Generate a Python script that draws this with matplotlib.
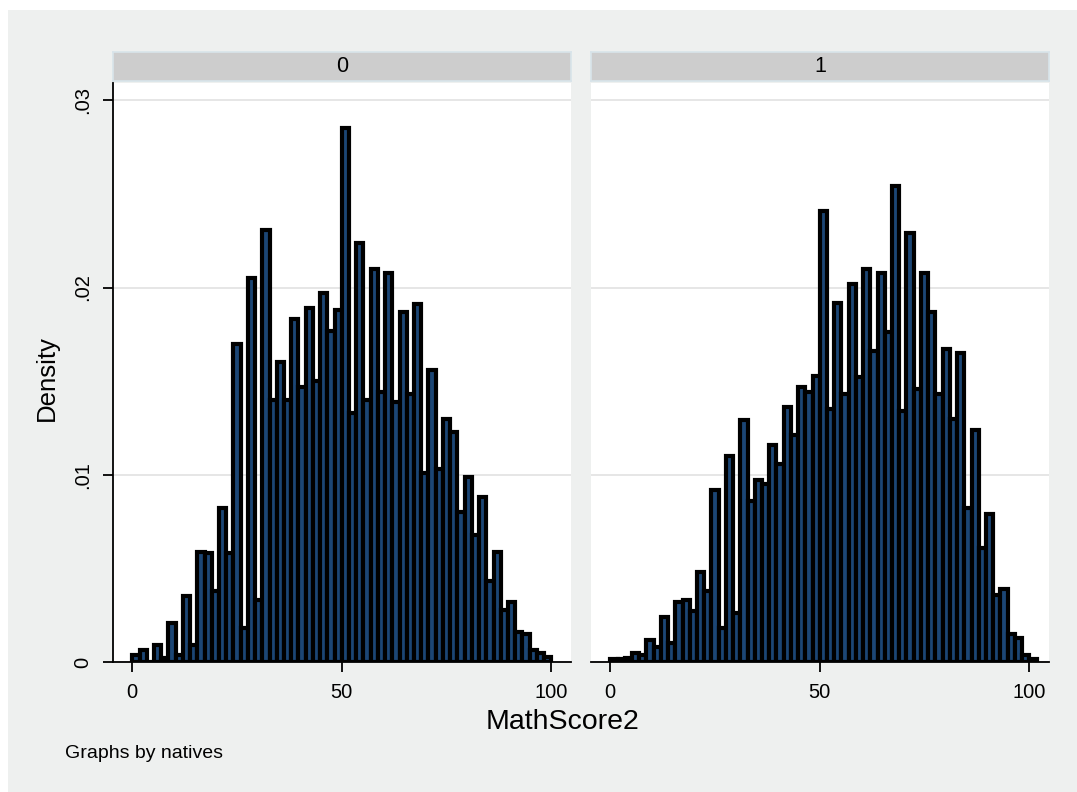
import matplotlib
matplotlib.use("Agg")
import matplotlib.pyplot as plt
from matplotlib.patches import Rectangle

# ---- data (density per bin; bins of width 100/58 starting at 0) ----
bin_start = 0.0
bin_width = 100.0 / 58

natives0 = [0.00035, 0.00065, 0.0, 0.0009, 0.0002, 0.0021, 0.0004, 0.0035, 0.0009, 0.0059,
            0.0058, 0.0038, 0.0082, 0.0058, 0.0170, 0.0018, 0.0205, 0.0033, 0.0231, 0.0140,
            0.0160, 0.0140, 0.0183, 0.0147, 0.0189, 0.0150, 0.0197, 0.0177, 0.0188, 0.0285,
            0.0133, 0.0224, 0.0140, 0.0210, 0.0144, 0.0208, 0.0139, 0.0187, 0.0143, 0.0191,
            0.0101, 0.0156, 0.0103, 0.0130, 0.0123, 0.0080, 0.0099, 0.0068, 0.0088, 0.0043,
            0.0059, 0.0028, 0.0032, 0.0016, 0.0015, 0.00065, 0.0005, 0.00025]

natives1 = [0.00015, 0.00015, 0.0002, 0.0005, 0.00035, 0.0012, 0.0008, 0.0024, 0.0010, 0.0032,
            0.0033, 0.0027, 0.0048, 0.0038, 0.0092, 0.0018, 0.0110, 0.0026, 0.0129, 0.0086,
            0.0097, 0.0095, 0.0116, 0.0106, 0.0136, 0.0121, 0.0147, 0.0144, 0.0153, 0.0241,
            0.0135, 0.0192, 0.0143, 0.0202, 0.0152, 0.0210, 0.0166, 0.0208, 0.0176, 0.0254,
            0.0134, 0.0229, 0.0146, 0.0208, 0.0187, 0.0143, 0.0167, 0.0130, 0.0165, 0.0082,
            0.0124, 0.0061, 0.0079, 0.0036, 0.0039, 0.0015, 0.0013, 0.0004, 0.00015]

panels = ["0", "1"]
panel_data = [natives0, natives1]
xticks = [0, 50, 100]
yticks = [0, 0.01, 0.02, 0.03]
ytick_labels = ["0", ".01", ".02", ".03"]
xtitle = "MathScore2"
ytitle = "Density"
note = "Graphs by natives"

# ---- style ----
W, H = 1077, 792
FONT = ["Liberation Sans", "DejaVu Sans"]
plt.rcParams["font.family"] = FONT
BG = "#EEF0EF"
BAR_FILL = "#1C4675"
STRIP = "#CDCDCD"

fig = plt.figure(figsize=(W / 100, H / 100), dpi=100)
fig.patch.set_facecolor("white")
fig.add_artist(Rectangle((8 / W, 0), 1 - 8 / W, 1 - 10 / H, transform=fig.transFigure,
                         facecolor=BG, edgecolor="none", zorder=-10))

def fx(px):
    return px / W

def fy(py):
    return 1 - py / H

ax_top, ax_bot = 83, 662
panel_lr = [(113, 571), (591, 1049)]
px_per_unit = 4.19
x0_px = [132.3, 610.3]
ymax = (661 - ax_top) / 186.9 * 0.01

for i, (name, vals) in enumerate(zip(panels, panel_data)):
    l, r = panel_lr[i]
    ax = fig.add_axes([fx(l), fy(ax_bot), fx(r - l), (ax_bot - ax_top) / H])
    ax.set_facecolor("white")
    lefts = [bin_start + k * bin_width for k in range(len(vals))]
    ax.bar(lefts, vals, width=bin_width, align="edge", color=BAR_FILL,
           edgecolor="black", linewidth=3.0, zorder=3)
    xmin = (l - x0_px[i]) / px_per_unit
    xmax = (r - x0_px[i]) / px_per_unit
    ax.set_xlim(xmin, xmax)
    ax.set_ylim(0, ymax)
    ax.set_yticks(yticks)
    ax.yaxis.grid(True, color="#E6E6E6", linewidth=1.4, zorder=0)
    ax.set_axisbelow(True)
    for s in ["top", "right"]:
        ax.spines[s].set_visible(False)
    ax.spines["bottom"].set_linewidth(1.3)
    ax.set_xticks(xticks)
    ax.set_xticklabels([str(t) for t in xticks], fontsize=14.5)
    ax.tick_params(axis="x", length=7, width=1.3, pad=8, color="black")
    if i == 0:
        ax.spines["left"].set_linewidth(1.3)
        ax.set_yticklabels(ytick_labels, fontsize=14.5, rotation=90, va="center")
        ax.tick_params(axis="y", length=7, width=1.3, pad=8)
    else:
        ax.spines["left"].set_visible(False)
        ax.tick_params(axis="y", length=0, labelleft=False)
    # strip header
    sax = fig.add_axes([fx(l), fy(81), fx(r - l), 29 / H])
    sax.set_facecolor(STRIP)
    sax.set_xticks([])
    sax.set_yticks([])
    for s in sax.spines.values():
        s.set_edgecolor("#D8E4EA")
        s.set_linewidth(1.2)
    sax.text(0.5, 0.5, name, ha="center", va="center", fontsize=15.5,
             transform=sax.transAxes)

fig.text(fx(562), fy(722), xtitle, ha="center", va="center", fontsize=20.5)
fig.text(fx(47), fy(378), ytitle, ha="center", va="center", rotation=90, fontsize=18.5)
fig.text(fx(65), fy(753), note, ha="left", va="center", fontsize=14)

fig.savefig("out.png", dpi=100, facecolor=fig.get_facecolor())
